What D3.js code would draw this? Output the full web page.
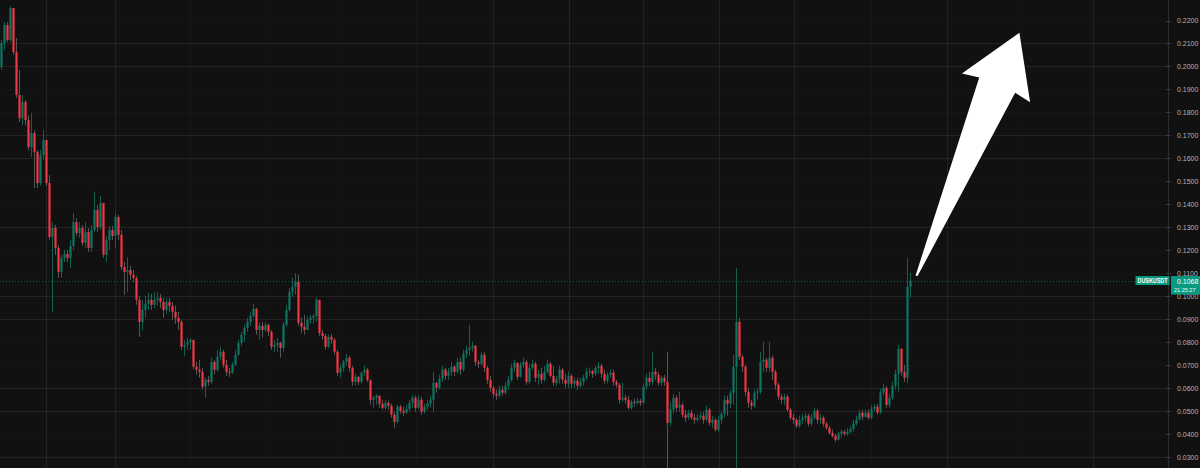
<!DOCTYPE html>
<html><head><meta charset="utf-8">
<script src="https://cdn.jsdelivr.net/npm/d3@7"></script>
<style>html,body{margin:0;padding:0;background:#111111;overflow:hidden}svg{display:block}</style>
</head><body><svg id="c" width="1200" height="468"></svg>
<script>
const symbol = "DUSKUSDT";
const countdown = "21:25:27";
const firstOpen = 0.1998;
const closes = [
.2102,.2180,.2115,.2254,.2063,.1876,.1775,.1845,.1767,.1649,
.1710,.1628,.1492,.1615,.1680,.1492,.1258,.1297,.1210,.1106,
.1167,.1184,.1167,.1219,.1323,.1275,.1297,.1232,.1280,.1210,
.1288,.1375,.1301,.1406,.1180,.1245,.1288,.1262,.1345,.1267,
.1127,.1106,.1114,.1093,.1080,.0984,.0888,.0940,.0967,.0984,
.0962,.0984,.0993,.0975,.0940,.0975,.0958,.0932,.0906,.0888,
.0780,.0788,.0801,.0810,.0693,.0680,.0671,.0606,.0636,.0627,
.0714,.0680,.0736,.0758,.0701,.0671,.0667,.0701,.0745,.0797,
.0832,.0862,.0888,.0914,.0945,.0853,.0871,.0853,.0875,.0845,
.0780,.0788,.0797,.0775,.0875,.0940,.1019,.1041,.1062,.0884,
.0867,.0853,.0897,.0906,.0914,.0984,.0840,.0827,.0780,.0823,
.0810,.0758,.0667,.0688,.0714,.0732,.0688,.0627,.0649,.0627,
.0667,.0680,.0636,.0549,.0558,.0567,.0532,.0514,.0536,.0523,
.0484,.0453,.0519,.0501,.0493,.0510,.0536,.0558,.0514,.0549,
.0497,.0519,.0532,.0549,.0623,.0601,.0640,.0680,.0653,.0671,
.0693,.0671,.0714,.0680,.0749,.0766,.0775,.0784,.0714,.0706,
.0745,.0688,.0636,.0601,.0575,.0567,.0593,.0580,.0610,.0636,
.0688,.0710,.0649,.0701,.0714,.0627,.0688,.0706,.0645,.0662,
.0636,.0671,.0706,.0653,.0623,.0640,.0680,.0636,.0619,.0653,
.0619,.0632,.0610,.0627,.0645,.0671,.0675,.0662,.0688,.0697,
.0662,.0632,.0658,.0667,.0627,.0614,.0549,.0558,.0549,.0514,
.0540,.0536,.0545,.0536,.0606,.0645,.0627,.0671,.0658,.0623,
.0645,.0627,.0449,.0506,.0558,.0514,.0527,.0484,.0471,.0493,
.0471,.0462,.0471,.0480,.0462,.0506,.0449,.0462,.0419,.0462,
.0488,.0549,.0532,.0580,.0693,.0888,.0736,.0693,.0584,.0536,
.0523,.0580,.0584,.0714,.0723,.0688,.0732,.0671,.0614,.0562,
.0549,.0562,.0506,.0471,.0462,.0436,.0462,.0471,.0480,.0445,
.0471,.0501,.0462,.0471,.0445,.0427,.0405,.0392,.0375,.0401,
.0410,.0401,.0410,.0423,.0445,.0462,.0493,.0475,.0493,.0471,
.0510,.0519,.0493,.0580,.0601,.0527,.0558,.0610,.0662,.0771,
.0671,.0645,.1041,.1068];
const highs = [
.2115,.2193,.2193,.2263,.2246,.2124,.1985,.1876,.1854,.1788,
.1797,.1723,.1636,.1636,.1723,.1671,.1527,.1323,.1310,.1223,
.1180,.1201,.1201,.1245,.1362,.1340,.1323,.1310,.1323,.1297,
.1310,.1454,.1397,.1436,.1397,.1262,.1306,.1306,.1362,.1353,
.1288,.1149,.1171,.1132,.1114,.1088,.1001,.0984,.1001,.1014,
.1010,.1019,.1019,.1010,.0993,.0993,.0993,.0975,.0958,.0932,
.0897,.0810,.0819,.0819,.0810,.0714,.0723,.0688,.0645,.0653,
.0732,.0723,.0766,.0780,.0766,.0723,.0688,.0714,.0766,.0810,
.0845,.0875,.0906,.0932,.0967,.0949,.0888,.0888,.0888,.0880,
.0853,.0810,.0819,.0801,.0888,.0962,.1036,.1080,.1101,.1093,
.0906,.0919,.0914,.0919,.0923,.0993,.0975,.0853,.0836,.0832,
.0836,.0819,.0766,.0701,.0723,.0749,.0741,.0697,.0662,.0653,
.0671,.0697,.0688,.0636,.0567,.0575,.0558,.0549,.0549,.0545,
.0532,.0497,.0527,.0527,.0519,.0527,.0549,.0571,.0567,.0567,
.0562,.0532,.0549,.0567,.0671,.0627,.0658,.0697,.0688,.0688,
.0714,.0701,.0732,.0732,.0766,.0784,.0875,.0801,.0788,.0723,
.0758,.0758,.0697,.0653,.0610,.0593,.0610,.0610,.0627,.0653,
.0706,.0723,.0710,.0714,.0732,.0723,.0706,.0723,.0714,.0680,
.0688,.0697,.0723,.0714,.0697,.0653,.0697,.0688,.0662,.0671,
.0662,.0645,.0645,.0645,.0658,.0688,.0688,.0680,.0697,.0714,
.0706,.0680,.0671,.0680,.0680,.0636,.0623,.0623,.0571,.0567,
.0549,.0553,.0558,.0553,.0619,.0662,.0671,.0758,.0688,.0671,
.0653,.0658,.0758,.0540,.0575,.0567,.0584,.0536,.0506,.0506,
.0506,.0488,.0488,.0497,.0497,.0523,.0514,.0480,.0471,.0480,
.0497,.0567,.0567,.0593,.0745,.1123,.0906,.0745,.0701,.0601,
.0549,.0593,.0601,.0758,.0801,.0732,.0801,.0741,.0680,.0623,
.0575,.0575,.0571,.0514,.0488,.0471,.0480,.0488,.0493,.0488,
.0488,.0514,.0510,.0488,.0480,.0453,.0436,.0419,.0401,.0410,
.0419,.0419,.0427,.0436,.0462,.0480,.0506,.0506,.0506,.0506,
.0527,.0532,.0532,.0597,.0619,.0610,.0575,.0627,.0680,.0788,
.0775,.0701,.1167,.1101];
const lows = [
.1985,.2072,.2106,.2106,.2050,.1863,.1758,.1745,.1745,.1636,
.1606,.1471,.1471,.1480,.1593,.1480,.1245,.0932,.1180,.1080,
.1080,.1149,.1149,.1123,.1201,.1262,.1254,.1219,.1210,.1193,
.1193,.1280,.1280,.1288,.1167,.1149,.1201,.1245,.1210,.1245,
.1114,.1006,.1019,.1071,.1062,.0962,.0823,.0853,.0906,.0940,
.0940,.0949,.0958,.0949,.0906,.0923,.0932,.0897,.0880,.0853,
.0766,.0741,.0766,.0766,.0680,.0658,.0645,.0593,.0558,.0610,
.0619,.0662,.0671,.0723,.0688,.0653,.0649,.0662,.0697,.0741,
.0784,.0801,.0845,.0871,.0906,.0832,.0810,.0819,.0845,.0827,
.0766,.0758,.0758,.0732,.0758,.0867,.0932,.0997,.1006,.0871,
.0840,.0832,.0853,.0880,.0880,.0888,.0827,.0810,.0766,.0775,
.0793,.0745,.0653,.0645,.0671,.0697,.0671,.0610,.0610,.0614,
.0619,.0653,.0627,.0527,.0514,.0527,.0514,.0506,.0506,.0506,
.0471,.0427,.0445,.0488,.0480,.0488,.0497,.0514,.0497,.0506,
.0484,.0488,.0506,.0514,.0497,.0580,.0593,.0627,.0636,.0636,
.0653,.0653,.0662,.0658,.0671,.0732,.0741,.0758,.0697,.0688,
.0697,.0671,.0619,.0584,.0558,.0549,.0558,.0567,.0571,.0593,
.0627,.0671,.0636,.0645,.0688,.0614,.0619,.0680,.0627,.0614,
.0619,.0627,.0662,.0645,.0610,.0610,.0619,.0619,.0601,.0601,
.0601,.0601,.0593,.0601,.0610,.0636,.0653,.0645,.0653,.0662,
.0645,.0619,.0619,.0645,.0610,.0601,.0532,.0540,.0532,.0506,
.0506,.0519,.0527,.0523,.0527,.0593,.0610,.0614,.0636,.0610,
.0610,.0610,.0245,.0436,.0488,.0497,.0497,.0471,.0453,.0462,
.0462,.0445,.0453,.0462,.0445,.0453,.0436,.0427,.0410,.0410,
.0445,.0471,.0480,.0514,.0527,.0245,.0723,.0671,.0567,.0514,
.0506,.0514,.0549,.0575,.0671,.0671,.0671,.0636,.0593,.0549,
.0532,.0527,.0497,.0462,.0445,.0427,.0427,.0445,.0453,.0432,
.0436,.0462,.0445,.0445,.0432,.0419,.0397,.0384,.0366,.0371,
.0384,.0392,.0392,.0401,.0410,.0436,.0462,.0462,.0471,.0462,
.0462,.0497,.0484,.0488,.0567,.0514,.0514,.0549,.0593,.0584,
.0653,.0627,.0623,.0993];
const priceTicks = [0.03,0.04,0.05,0.06,0.07,0.08,0.09,0.10,0.11,0.12,0.13,0.14,0.15,0.16,0.17,0.18,0.19,0.20,0.21,0.22];
const majorPriceGrid = [0.03,0.05,0.06,0.09,0.10,0.13,0.16,0.17,0.20,0.21];
const timeGridMajor = [14.8,37.8,163.8,189.2,213.8,239.2,264.2,315.2,363.8];
const timeGridMinor = [62.8,88.2,113.2,138.2,289.8,339.8];
const arrowFrom = {i:305, p:0.1088};
const arrowTo = {i:339.3, p:0.2147};

const W = 1200, H = 468, axisX = 1168;
const svg = d3.select("#c");
svg.append("rect").attr("width", W).attr("height", H).attr("fill", "#111111");

const N = closes.length;
const x = d3.scaleLinear().domain([0, N - 1]).range([1.5, 1.5 + 3 * (N - 1)]);
const y = d3.scaleLinear().domain([0.03, 0.22]).range([457, 20.5]);

const opens = [firstOpen].concat(closes.slice(0, -1));
const candles = closes.map((c, i) => {
  const o = opens[i];
  return {i, o, c, h: Math.max(highs[i], o, c), l: Math.min(lows[i], o, c)};
});

svg.append("defs").append("clipPath").attr("id", "plot")
  .append("rect").attr("x", 0).attr("y", 0).attr("width", axisX).attr("height", H);

const grid = svg.append("g").attr("clip-path", "url(#plot)");
const px = v => Math.round(v) + 0.5;
grid.selectAll(".hg").data(priceTicks).join("line")
  .attr("x1", 0).attr("x2", axisX)
  .attr("y1", d => px(y(d))).attr("y2", d => px(y(d)))
  .attr("stroke", "#ffffff")
  .attr("stroke-opacity", d => majorPriceGrid.some(m => Math.abs(m - d) < 1e-9) ? 0.075 : 0.022);
grid.selectAll(".vg").data(timeGridMajor.map(v => ({v, m: true})).concat(timeGridMinor.map(v => ({v, m: false}))))
  .join("line")
  .attr("x1", d => px(x(d.v))).attr("x2", d => px(x(d.v)))
  .attr("y1", 0).attr("y2", H)
  .attr("stroke", "#ffffff")
  .attr("stroke-opacity", d => d.m ? 0.075 : 0.022);

const up = "#0e7563", down = "#f23645";
const plot = svg.append("g").attr("clip-path", "url(#plot)");
plot.selectAll(".wick").data(candles).join("line")
  .attr("x1", d => x(d.i)).attr("x2", d => x(d.i))
  .attr("y1", d => y(d.h)).attr("y2", d => y(d.l))
  .attr("stroke", d => d.c >= d.o ? "#12614f" : "#565656")
  .attr("stroke-width", 1);
plot.selectAll(".body").data(candles).join("rect")
  .attr("x", d => x(d.i) - 1.1).attr("width", 2.2)
  .attr("y", d => Math.min(y(d.o), y(d.c)))
  .attr("height", d => Math.max(1, Math.abs(y(d.o) - y(d.c))))
  .attr("fill", d => d.c >= d.o ? up : down);

// last price line
const last = closes[N - 1];
const ly = Math.round(y(last)) + 0.5;
svg.append("line").attr("x1", 0).attr("x2", axisX).attr("y1", ly).attr("y2", ly)
  .attr("stroke", "#0d8a74").attr("stroke-opacity", 0.6).attr("stroke-dasharray", "1,2");

// axis
svg.append("line").attr("x1", axisX + 0.5).attr("x2", axisX + 0.5).attr("y1", 0).attr("y2", H)
  .attr("stroke", "#2c2c2c");
const ax = svg.append("g");
ax.selectAll("line").data(priceTicks).join("line")
  .attr("x1", axisX - 2).attr("x2", axisX + 3)
  .attr("y1", d => px(y(d))).attr("y2", d => px(y(d)))
  .attr("stroke", "#3a3a3a");
const fmt = d3.format(".4f");
ax.selectAll("text").data(priceTicks).join("text")
  .attr("x", 1177).attr("y", d => y(d)).attr("dy", "0.36em")
  .attr("font-family", "'Liberation Sans', Arial, sans-serif").attr("font-size", 7)
  .attr("fill", "#b4b4b4").text(d => fmt(d));

// symbol + price label
const lg = svg.append("g");
lg.append("rect").attr("x", 1135.5).attr("y", y(last) - 4.5).attr("width", 34).attr("height", 9).attr("fill", "#089981");
lg.append("text").attr("x", 1137.5).attr("y", y(last)).attr("dy", "0.36em")
  .attr("font-family", "'Liberation Sans', Arial, sans-serif").attr("font-size", 6.5).attr("font-weight", "bold")
  .attr("textLength", 30).attr("lengthAdjust", "spacingAndGlyphs")
  .attr("fill", "#ffffff").text(symbol);
lg.append("rect").attr("x", 1171).attr("y", y(last) - 4.5).attr("width", 29).attr("height", 18.5).attr("fill", "#089981");
lg.append("text").attr("x", 1177).attr("y", y(last) + 0.5).attr("dy", "0.36em")
  .attr("font-family", "'Liberation Sans', Arial, sans-serif").attr("font-size", 7)
  .attr("fill", "#ffffff").text(fmt(last));
lg.append("text").attr("x", 1174).attr("y", y(last) + 9).attr("dy", "0.36em")
  .attr("font-family", "'Liberation Sans', Arial, sans-serif").attr("font-size", 6.2)
  .attr("textLength", 21.5).attr("lengthAdjust", "spacingAndGlyphs")
  .attr("fill", "#e8fff8").text(countdown);

// arrow annotation
const tail = [x(arrowFrom.i), y(arrowFrom.p)];
const tip = [x(arrowTo.i), y(arrowTo.p)];
const dx = tip[0] - tail[0], dy = tip[1] - tail[1];
const L = Math.hypot(dx, dy);
const u = [dx / L, dy / L], n = [-u[1], u[0]];
const pt = (base, a, b) => [base[0] + u[0] * a + n[0] * b, base[1] + u[1] * a + n[1] * b];
const poly = [
  pt(tail, 0, -1), pt(tip, -57, -19.5), pt(tip, -60, -37), tip,
  pt(tip, -60, 37), pt(tip, -57, 19.5), pt(tail, 0, 1)
];
svg.append("path").attr("d", d3.line()(poly) + "Z").attr("fill", "#ffffff");
</script>
</body></html>
